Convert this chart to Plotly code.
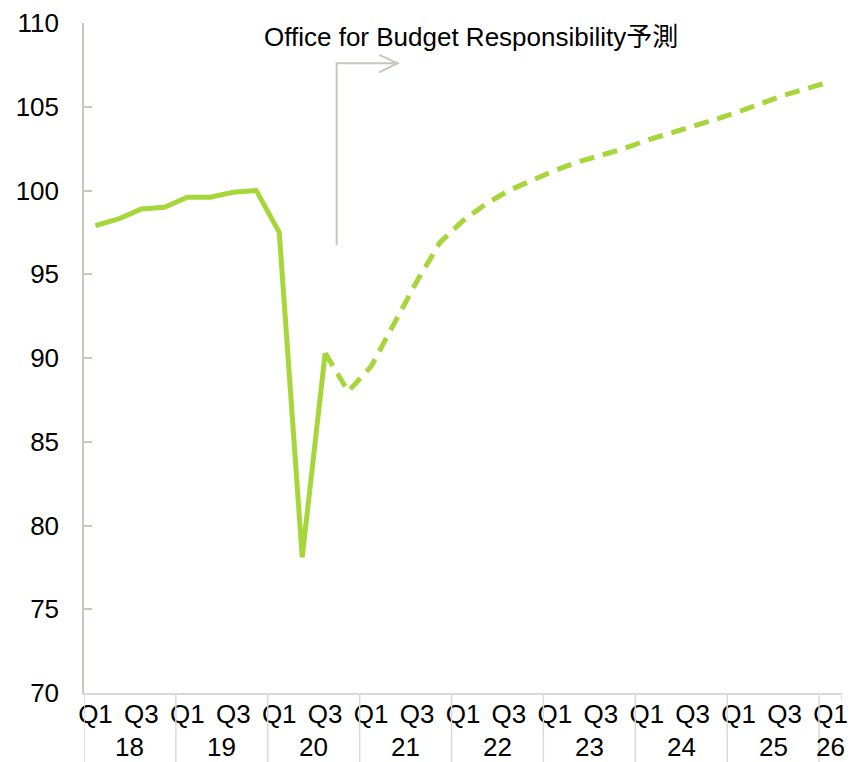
import plotly.graph_objects as go

# Quarterly index, Q1 2018 .. Q1 2026 (2019 Q4 = 100)
quarters = ["Q1", "Q2", "Q3", "Q4"] * 8 + ["Q1"]
years = ["18", "19", "20", "21", "22", "23", "24", "25", "26"]
actual = [97.9, 98.3, 98.9, 99.0, 99.6, 99.6, 99.9, 100.0, 97.5, 78.1, 90.3]
forecast = [90.3, 88.0, 89.5, 92.1, 94.6, 96.9, 98.2, 99.2, 100.0, 100.6,
            101.2, 101.7, 102.1, 102.5, 103.0, 103.4, 103.8, 104.25,
            104.7, 105.2, 105.7, 106.1, 106.5]
y_ticks = [70, 75, 80, 85, 90, 95, 100, 105, 110]
forecast_label = "Office for Budget Responsibility予測"

GREEN = "#A6D63A"
AXIS = "#C9C6BF"
SEP = "#D9D9D9"
FONT = "Liberation Sans, Arial, Noto Sans CJK JP, sans-serif"

n = len(quarters)
x_all = list(range(n))
x_act = x_all[:len(actual)]
x_fc = x_all[len(actual) - 1:len(actual) - 1 + len(forecast)]

fig = go.Figure()
fig.add_trace(go.Scatter(x=x_act, y=actual, mode="lines",
                         line=dict(color=GREEN, width=5), hoverinfo="skip"))
fig.add_trace(go.Scatter(x=x_fc, y=forecast, mode="lines",
                         line=dict(color=GREEN, width=5, dash="15px,9px"),
                         hoverinfo="skip"))

# Q1 / Q3 labels every other quarter
tick_vals = [i for i in x_all if quarters[i] in ("Q1", "Q3")]
tick_text = [quarters[i] for i in tick_vals]

# Year group separators below the axis
shapes = []
sep_h = 69 / 670
for k in range(len(years)):
    xb = 4 * k - 0.5
    shapes.append(dict(type="line", xref="x", yref="paper", x0=xb, x1=xb,
                       y0=0, y1=-sep_h, line=dict(color=SEP, width=1.5)))
shapes.append(dict(type="line", xref="x", yref="paper", x0=n - 0.5, x1=n - 0.5,
                   y0=0, y1=-0.012, line=dict(color=SEP, width=1.5)))

# Bent arrow marking the start of the forecast
ax0 = 10.5
ax1 = 13.15
shapes.append(dict(type="path", xref="x", yref="y",
                   path=f"M {ax0},96.75 L {ax0},107.6 L {ax1},107.6",
                   line=dict(color=AXIS, width=2)))
shapes.append(dict(type="path", xref="x", yref="y",
                   path=f"M {ax1-0.8},108.1 L {ax1},107.6 L {ax1-0.8},107.05",
                   line=dict(color=AXIS, width=2)))

annotations = []
for k, yr in enumerate(years):
    xc = 4 * k + 1.5 if k < len(years) - 1 else 4 * k
    annotations.append(dict(x=xc, xref="x", y=-54 / 670, yref="paper",
                            text=yr, showarrow=False, yanchor="middle",
                            font=dict(family=FONT, size=26, color="#000")))
annotations.append(dict(x=16.35, xref="x", y=1.0 - 14 / 670, yref="paper",
                        text=forecast_label, showarrow=False,
                        xanchor="center", yanchor="middle",
                        font=dict(family=FONT, size=26, color="#000")))

fig.update_layout(
    width=855, height=762,
    margin=dict(l=84, r=7, t=23, b=69),
    paper_bgcolor="white", plot_bgcolor="white",
    showlegend=False,
    shapes=shapes, annotations=annotations,
    xaxis=dict(range=[-0.5, n - 0.5], tickvals=tick_vals, ticktext=tick_text,
               showgrid=False, zeroline=False, showline=True,
               linecolor=SEP, linewidth=1.5, ticks="",
               ticklabelstandoff=-3,
               tickfont=dict(family=FONT, size=26, color="#000")),
    yaxis=dict(range=[70, 110], tickvals=y_ticks, showgrid=False,
               zeroline=False, showline=True, linecolor=AXIS, linewidth=1.5,
               ticks="inside", ticklen=8, tickcolor=AXIS, tickwidth=1.5,
               ticklabelstandoff=18,
               tickfont=dict(family=FONT, size=26, color="#000")),
)

fig.write_html("out.html")
